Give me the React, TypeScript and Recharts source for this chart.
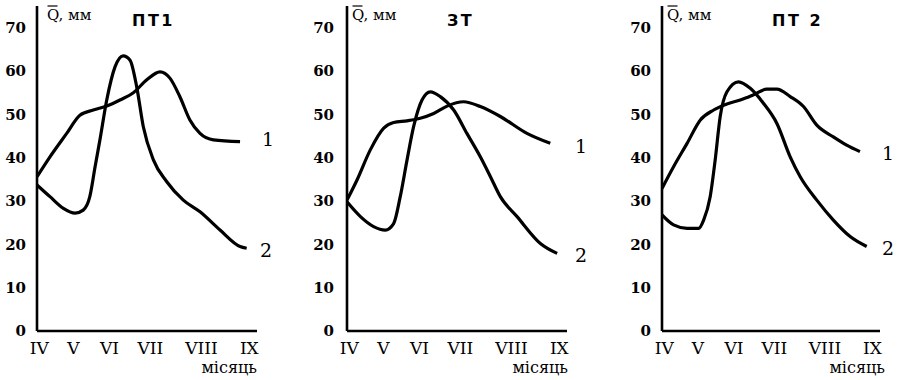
import React from "react";
import { LineChart, Line, XAxis, YAxis } from "recharts";

const months = ["IV", "V", "VI", "VII", "VIII", "IX"];
const monthPos = [1, 16.5, 33, 51.5, 74.8, 96.5];
const yTicks = [0, 10, 20, 30, 40, 50, 60, 70];

const pt1Line1 = [
  { x: 0, q: 35.6 }, { x: 5.9, q: 40.2 }, { x: 13.5, q: 45.6 }, { x: 19.5, q: 49.8 },
  { x: 25.6, q: 51 }, { x: 31.7, q: 51.9 }, { x: 37.7, q: 53.3 }, { x: 43.8, q: 55 },
  { x: 49.8, q: 57.9 }, { x: 55.9, q: 59.8 }, { x: 60.5, q: 58.3 }, { x: 65, q: 54 },
  { x: 69.5, q: 48.7 }, { x: 74.1, q: 45.6 }, { x: 80.2, q: 44.1 }, { x: 92.3, q: 43.7 },
];
const pt1Line2 = [
  { x: 0, q: 33.7 }, { x: 5.9, q: 31 }, { x: 12, q: 28.3 }, { x: 17.3, q: 27.2 },
  { x: 21, q: 27.9 }, { x: 24, q: 31 }, { x: 26.4, q: 37.9 }, { x: 28.6, q: 44.1 },
  { x: 31.7, q: 53.3 }, { x: 35.5, q: 61 }, { x: 39.2, q: 63.5 }, { x: 42.3, q: 62.5 },
  { x: 45.3, q: 56.4 }, { x: 48.3, q: 47.2 }, { x: 52.9, q: 39.5 }, { x: 58.9, q: 34.5 },
  { x: 66.5, q: 30.2 }, { x: 74.1, q: 27.5 }, { x: 83.2, q: 23.3 }, { x: 92.3, q: 19.5 },
  { x: 95.3, q: 19.1 },
];

const ztLine1 = [
  { x: 0, q: 30.2 }, { x: 4.5, q: 34.8 }, { x: 10.6, q: 41.8 }, { x: 16.7, q: 46.8 },
  { x: 21.2, q: 48.1 }, { x: 27.3, q: 48.5 }, { x: 33.3, q: 49.1 }, { x: 39.4, q: 50.2 },
  { x: 45.5, q: 51.9 }, { x: 53, q: 52.9 }, { x: 60.6, q: 51.8 }, { x: 69.7, q: 49.5 },
  { x: 81.8, q: 45.6 }, { x: 92.4, q: 43.3 },
];
const ztLine2 = [
  { x: 0, q: 29.8 }, { x: 6.1, q: 26.4 }, { x: 12.1, q: 24.1 }, { x: 17.4, q: 23.3 },
  { x: 21.2, q: 24.8 }, { x: 24.2, q: 31 }, { x: 27.3, q: 39.5 }, { x: 30.3, q: 47.2 },
  { x: 34.1, q: 53.3 }, { x: 37.9, q: 55.2 }, { x: 42.4, q: 54.1 }, { x: 48.5, q: 51 },
  { x: 54.5, q: 45.6 }, { x: 60.6, q: 40.2 }, { x: 65.2, q: 35.6 }, { x: 69.7, q: 31 },
  { x: 77.3, q: 26.4 }, { x: 87.9, q: 20.2 }, { x: 95.5, q: 17.9 },
];

const pt2Line1 = [
  { x: 0, q: 32.9 }, { x: 5.3, q: 37.9 }, { x: 11.5, q: 43.3 }, { x: 17.6, q: 48.7 },
  { x: 23.7, q: 51 }, { x: 29.8, q: 52.4 }, { x: 35.9, q: 53.3 }, { x: 42, q: 54.5 },
  { x: 48.1, q: 55.8 }, { x: 52.7, q: 55.8 }, { x: 58.8, q: 54.1 }, { x: 64.9, q: 51.8 },
  { x: 71, q: 47.5 }, { x: 78.6, q: 44.8 }, { x: 84.7, q: 42.9 }, { x: 90.8, q: 41.4 },
];
const pt2Line2 = [
  { x: 0, q: 26.8 }, { x: 5.3, q: 24.5 }, { x: 11.5, q: 23.7 }, { x: 16.8, q: 23.7 },
  { x: 19.1, q: 25.6 }, { x: 22.1, q: 31 }, { x: 24.4, q: 39.5 }, { x: 26.7, q: 49.5 },
  { x: 29.8, q: 55.2 }, { x: 35.1, q: 57.5 }, { x: 40.5, q: 56 }, { x: 46.6, q: 52.5 },
  { x: 52.7, q: 47.9 }, { x: 58.8, q: 40.2 }, { x: 63.4, q: 35.6 }, { x: 71, q: 30.2 },
  { x: 78.6, q: 25.6 }, { x: 86.3, q: 21.8 }, { x: 93.9, q: 19.5 },
];

const serif = "'DejaVu Serif', serif";
const sans = "'DejaVu Sans', sans-serif";

type PanelProps = {
  left: number;
  marginLeft: number;
  marginRight: number;
  yTickMargin: number;
  line1: { x: number; q: number }[];
  line2: { x: number; q: number }[];
};

function Panel({ left, marginLeft, marginRight, yTickMargin, line1, line2 }: PanelProps) {
  return (
    <div style={{ position: "absolute", left, top: 0 }}>
      <LineChart
        width={300}
        height={380}
        margin={{ top: 6, right: marginRight, bottom: 19, left: marginLeft }}
      >
        <XAxis
          type="number"
          dataKey="x"
          domain={[0, 100]}
          ticks={monthPos}
          tickFormatter={(v: number) => months[monthPos.indexOf(v)] ?? ""}
          interval={0}
          height={30}
          tickLine={false}
          tickSize={0}
          tickMargin={11}
          axisLine={{ stroke: "#000", strokeWidth: 2.6 }}
          tick={{ fill: "#000", fontSize: 17, fontFamily: serif }}
          allowDataOverflow
        />
        <YAxis
          type="number"
          domain={[0, 75]}
          ticks={yTicks}
          interval={0}
          width={37}
          tickLine={false}
          tickSize={0}
          tickMargin={yTickMargin}
          axisLine={{ stroke: "#000", strokeWidth: 2.6 }}
          tick={{ fill: "#000", fontSize: 15, fontFamily: serif, fontWeight: 700 }}
          allowDataOverflow
        />
        <Line
          data={line1}
          dataKey="q"
          type="monotone"
          stroke="#000"
          strokeWidth={3.2}
          dot={false}
          isAnimationActive={false}
        />
        <Line
          data={line2}
          dataKey="q"
          type="monotone"
          stroke="#000"
          strokeWidth={3.2}
          dot={false}
          isAnimationActive={false}
        />
      </LineChart>
    </div>
  );
}

const titles = [
  { text: "ПТ1", x: 132 },
  { text: "ЗТ", x: 447 },
  { text: "ПТ 2", x: 772 },
];
const qLabelX = [47, 352, 667];
const monthLabelRight = [257, 568, 885];
const curveLabels = [
  { text: "1", x: 262, y: 146 },
  { text: "2", x: 260, y: 257 },
  { text: "1", x: 575, y: 153 },
  { text: "2", x: 575, y: 262 },
  { text: "1", x: 882, y: 160 },
  { text: "2", x: 882, y: 255 },
];

export default function App() {
  return (
    <div
      style={{
        position: "absolute",
        left: 0,
        top: 0,
        width: 900,
        height: 380,
        background: "#fff",
        overflow: "hidden",
      }}
    >
      <Panel left={0} marginLeft={0} marginRight={43} yTickMargin={11} line1={pt1Line1} line2={pt1Line2} />
      <Panel left={300} marginLeft={10} marginRight={33} yTickMargin={13} line1={ztLine1} line2={ztLine2} />
      <Panel left={600} marginLeft={25} marginRight={20} yTickMargin={11} line1={pt2Line1} line2={pt2Line2} />
      <svg
        width={900}
        height={380}
        style={{ position: "absolute", left: 0, top: 0, pointerEvents: "none" }}
      >
        {qLabelX.map((x, i) => (
          <g key={"q" + i}>
            <line x1={x + 0.5} x2={x + 10.5} y1={6} y2={6} stroke="#000" strokeWidth={1.2} />
            <text x={x} y={20} fontFamily={serif} fontSize={15} fill="#000">
              Q, мм
            </text>
          </g>
        ))}
        {titles.map((t, i) => (
          <text
            key={"t" + i}
            x={t.x}
            y={26}
            fontFamily={sans}
            fontWeight={700}
            fontSize={16}
            letterSpacing={2.5}
            fill="#000"
          >
            {t.text}
          </text>
        ))}
        {monthLabelRight.map((x, i) => (
          <text
            key={"m" + i}
            x={x}
            y={373}
            textAnchor="end"
            fontFamily={serif}
            fontSize={16}
            fill="#000"
          >
            місяць
          </text>
        ))}
        {curveLabels.map((c, i) => (
          <text key={"c" + i} x={c.x} y={c.y} fontFamily={serif} fontSize={19} fill="#000">
            {c.text}
          </text>
        ))}
      </svg>
    </div>
  );
}
